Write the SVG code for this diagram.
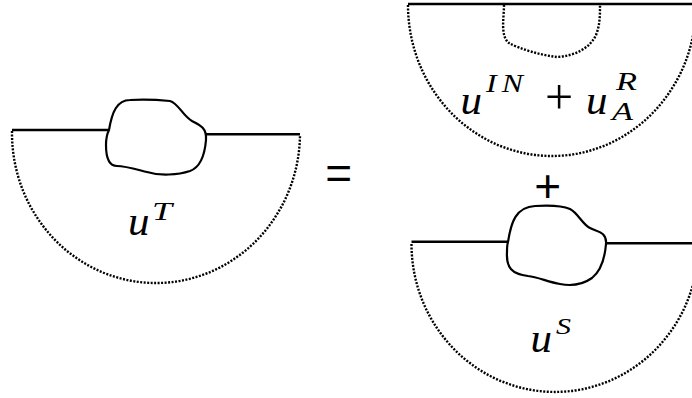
<svg xmlns="http://www.w3.org/2000/svg" width="692" height="398" viewBox="0 0 692 398">
<style>
.solid{fill:none;stroke:#000;stroke-width:2.4;stroke-linecap:butt}
.blob{fill:none;stroke:#000;stroke-width:2.2;stroke-linejoin:round}
.dot{fill:none;stroke:#000;stroke-width:2.4;stroke-dasharray:2 1.5}
</style>
<rect width="692" height="398" fill="#fff"/>
<g id="total-field">
  <path class="dot" d="M12,131 A144,150 0 0 0 300,135"/>
  <path class="solid" d="M12,130 L109,130"/>
  <path class="solid" d="M206,134.3 L300,134.3"/>
  <path class="blob" d="M109,130 C112,112 117,100 130,100 C145,99 160,100 170,101 C178,103 183,116 192,121 C200,125 207,128 206,140 C205,152 201,167 190,171 C178,175 160,176 147,172 C135,169 125,166 117,166 C109,166 106,157 106,145 C106,138 107,134 109,130 Z"/>
  <text x="128" y="234.5" font-family="Liberation Serif, serif" font-style="italic" font-size="43">u</text>
  <text x="152" y="220" font-family="Liberation Serif, serif" font-style="italic" font-size="25" textLength="20" lengthAdjust="spacingAndGlyphs">T</text>
</g>
<g id="incident-reflected">
  <path class="dot" d="M408,5 A144,151 0 0 0 696,5"/>
  <path class="solid" d="M408,4 L692,4"/>
  <path class="dot" d="M504,5 C504,18 500,36 509,43 C520,49 540,55 557,57 C575,56 590,48 596,35 C600,25 600,15 600,5"/>
  <text x="460.5" y="113.5" font-family="Liberation Serif, serif" font-style="italic" font-size="43">u</text>
  <text x="486" y="91.5" font-family="Liberation Serif, serif" font-style="italic" font-size="25" letter-spacing="4" textLength="42" lengthAdjust="spacingAndGlyphs">IN</text>
  <text x="559" y="114" font-family="Liberation Serif, serif" font-size="50" text-anchor="middle">+</text>
  <text x="586" y="113.5" font-family="Liberation Serif, serif" font-style="italic" font-size="43">u</text>
  <text x="616" y="90" font-family="Liberation Serif, serif" font-style="italic" font-size="25" textLength="21" lengthAdjust="spacingAndGlyphs">R</text>
  <text x="612" y="120" font-family="Liberation Serif, serif" font-style="italic" font-size="25" textLength="21" lengthAdjust="spacingAndGlyphs">A</text>
</g>
<g id="scattered">
  <path class="dot" d="M411.5,244 A143.5,148 0 0 0 698.5,244"/>
  <path class="solid" d="M411.5,241.7 L508,241.7"/>
  <path class="solid" d="M606,243.3 L692,243.3"/>
  <path class="blob" d="M508,242 C511,222 516,207 535,206 C550,205 563,206 570,209 C578,213 582,224 590,228 C598,232 607,232 606,244 C605,256 602,270 592,278 C582,285 570,286 560,284 C548,282 538,277 528,276 C512,274 506,268 507,252 C507,248 507,245 508,242 Z"/>
  <text x="530.5" y="352" font-family="Liberation Serif, serif" font-style="italic" font-size="43">u</text>
  <text x="556" y="334" font-family="Liberation Serif, serif" font-style="italic" font-size="24" textLength="15" lengthAdjust="spacingAndGlyphs">S</text>
</g>
<g id="operators">
  <text x="338.7" y="189" font-family="Liberation Sans, sans-serif" font-size="46" text-anchor="middle">=</text>
  <text x="547.7" y="201.5" font-family="Liberation Sans, sans-serif" font-size="46" text-anchor="middle">+</text>
</g>
</svg>
